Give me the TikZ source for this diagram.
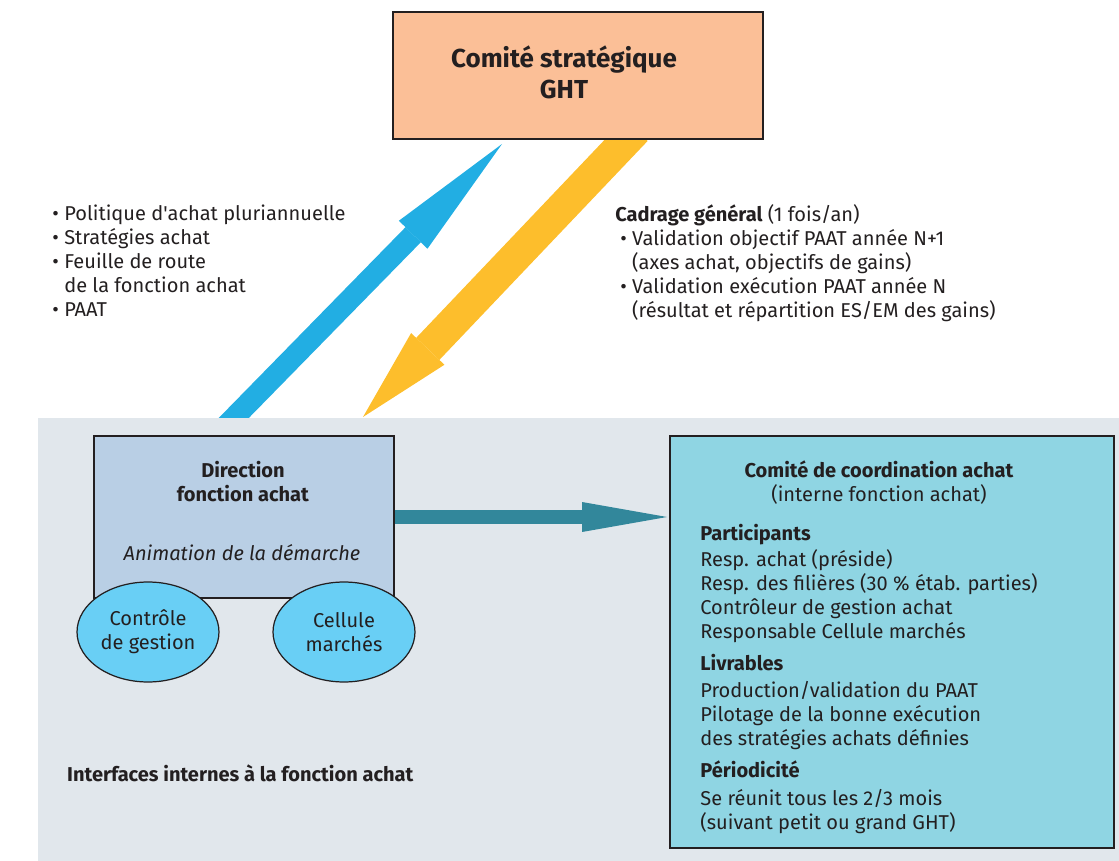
\documentclass[tikz,border=0pt]{standalone}
\usepackage{fontspec}
\setmainfont{Fira Sans}
\usepackage{xcolor}
\usepackage{tikz}
\usetikzlibrary{positioning,arrows.meta,shapes.geometric}
\definecolor{ink}{HTML}{231F20}
\definecolor{ghtorange}{HTML}{FBBF97}
\definecolor{upblue}{HTML}{22AEE3}
\definecolor{downyellow}{HTML}{FDBE2C}
\definecolor{flowteal}{HTML}{32879B}
\definecolor{zonegray}{HTML}{E1E7EC}
\definecolor{dirblue}{HTML}{B9CFE5}
\definecolor{cellcyan}{HTML}{69CFF5}
\definecolor{comcyan}{HTML}{8FD5E3}
\newcommand{\puce}{\makebox[6.8pt][l]{\textbullet}}
\newcommand{\retrait}{\makebox[6.8pt]{}}

\begin{document}
\begin{tikzpicture}[
    x=0.02cm, y=-0.02cm,
    font=\fontsize{11.4}{13.66}\selectfont,
    every node/.style={text=ink},
    panel/.style={draw=ink, line width=0.9pt, inner sep=0pt},
    oval/.style={ellipse, draw=ink, line width=0.7pt, fill=cellcyan, minimum width=2.84cm, minimum height=2cm, align=center, inner sep=0pt},
    note/.style={align=left, inner sep=0pt, anchor=base west},
    upflow/.style={line width=4.3mm, draw=upblue, -{Triangle[length=25.4mm, width=8mm, line width=0pt]}},
    downflow/.style={line width=6.4mm, draw=downyellow, -{Triangle[length=18.8mm, width=9.2mm, line width=0pt]}},
    sideflow/.style={line width=3mm, draw=flowteal, -{Triangle[length=17mm, width=6mm, line width=0pt]}}
]
    \useasboundingbox (0,0) rectangle (1119,861);

    % exchanges with the strategic committee
    \coordinate (upstart) at (222,430);
    \coordinate (uptip) at (502,144);
    \coordinate (downstart) at (636,130);
    \coordinate (downtip) at (363,417);
    \draw[upflow] (upstart) -- (uptip);
    \draw[downflow] (downstart) -- (downtip);

    \node[panel, fill=ghtorange, line width=1.1pt, minimum width=7.4cm, minimum height=2.54cm] (ght) at (578,75.5) {};
    \node[align=center, font=\fontsize{14.8}{17.6}\selectfont\bfseries] (ghttitle) at (564,72.5) {Comité stratégique\\GHT};

    \node[note] (politique) at (52,317) {\puce Politique d\textquotesingle achat pluriannuelle\\\puce Stratégies achat\\\puce Feuille de route\\\retrait de la fonction achat\\\puce PAAT};
    \node[note] (cadrage) at (615,318) {\textbf{Cadrage général} (1 fois/an)\\
        \hspace*{2.8pt}\puce Validation objectif PAAT année N+1\\
        \hspace*{2.8pt}\retrait(axes achat, objectifs de gains)\\
        \hspace*{2.8pt}\puce Validation exécution PAAT année N\\
        \hspace*{2.8pt}\retrait(résultat et répartition ES/EM des gains)};

    % internal zone
    \fill[zonegray] (38,418) rectangle (1119,861);

    \node[panel, fill=dirblue, minimum width=6cm, minimum height=3.24cm] (dir) at (244,517) {};
    \node[align=center, anchor=base] (dirtitle) at (243,501.7) {\textbf{Direction}\\\textbf{fonction achat}};
    \node[anchor=base] (dirrole) at (242,560) {\textit{Animation de la démarche}};
    \node[oval] (controle) at (148,632) {Contrôle\\de gestion};
    \node[oval] (cellule) at (344,632) {Cellule\\marchés};

    \node[panel, fill=comcyan, minimum width=8.88cm, minimum height=8.24cm] (comite) at (892,642) {};
    \node[align=center, anchor=base] (comtitle) at (879,501.7) {\textbf{Comité de coordination achat}\\(interne fonction achat)};
    \node[note] (comdetail) at (700,829) {\textbf{Participants}\\[1.1pt]
        Resp. achat (préside)\\
        Resp. des filières (30 \% étab. parties)\\
        Contrôleur de gestion achat\\
        Responsable Cellule marchés\\[4.5pt]
        \textbf{Livrables}\\[1.9pt]
        Production/validation du PAAT\\
        Pilotage de la bonne exécution\\
        des stratégies achats définies\\[4.5pt]
        \textbf{Périodicité}\\[1.9pt]
        Se réunit tous les 2/3 mois\\
        (suivant petit ou grand GHT)};

    \coordinate (flowtip) at (667,517);
    \draw[sideflow] (dir.east) -- (flowtip);

    \node[anchor=base west, font=\fontsize{11.4}{13.66}\selectfont\bfseries] (interfaces) at (61,781) {Interfaces internes à la fonction achat};
\end{tikzpicture}
\end{document}
